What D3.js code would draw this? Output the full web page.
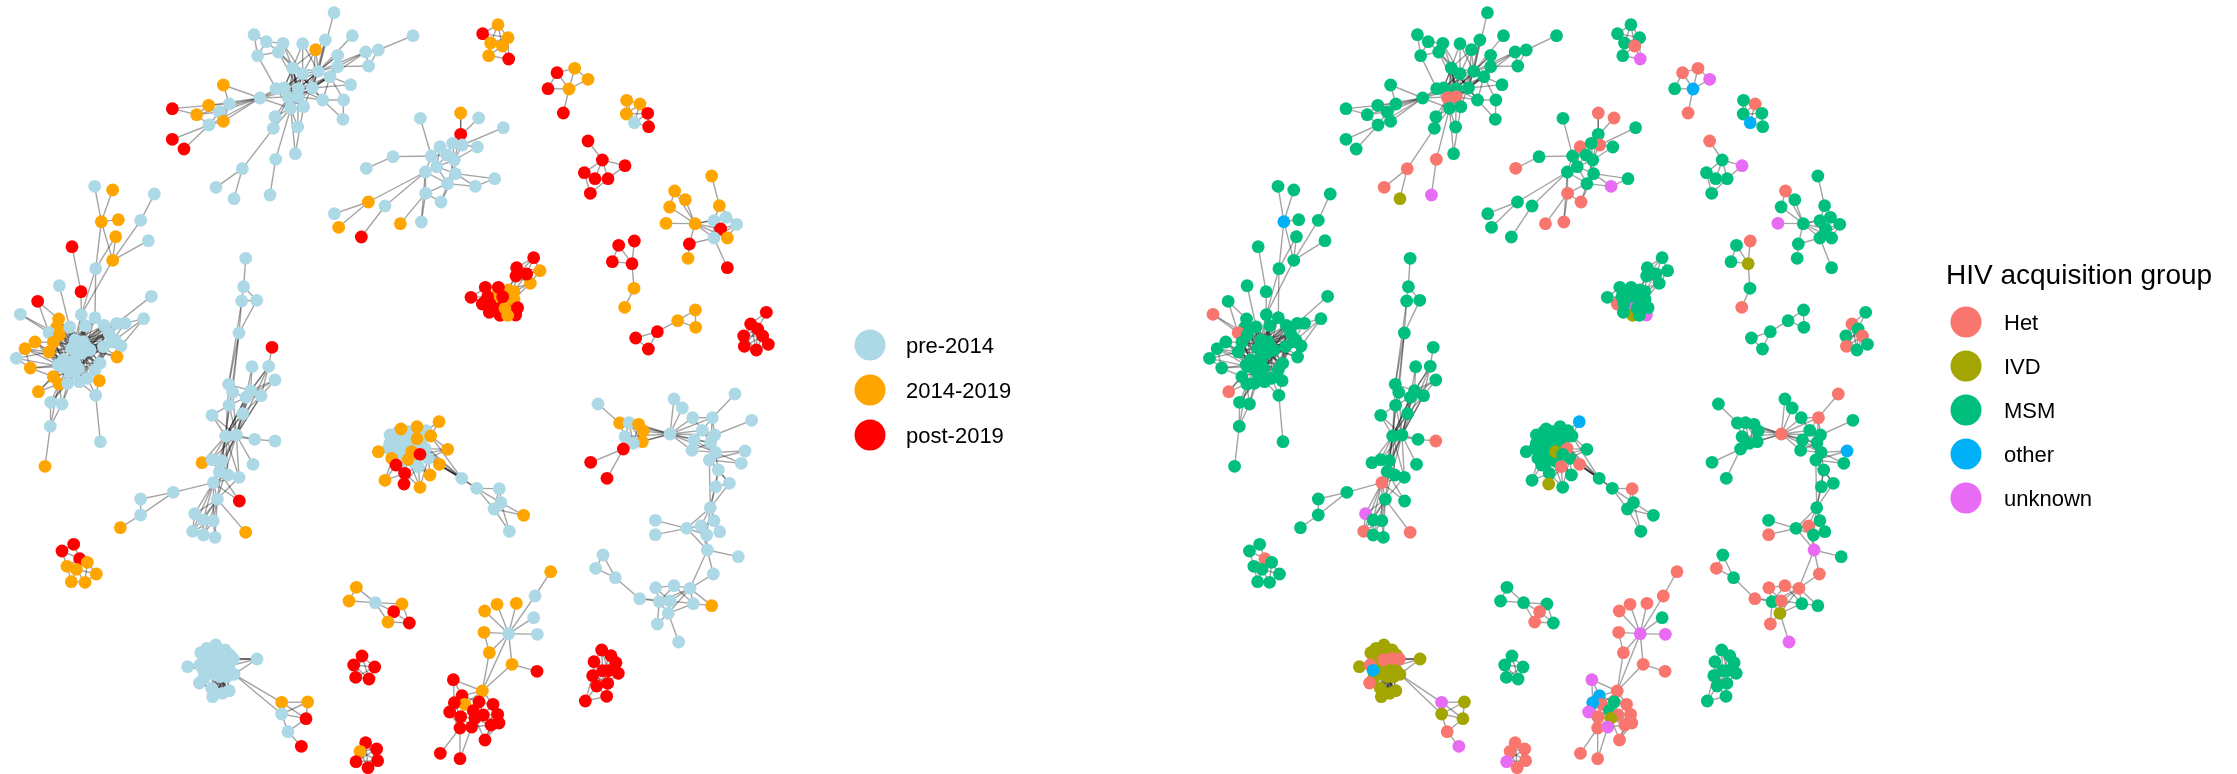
<!DOCTYPE html>
<html>

<head>
    <meta charset='utf-8' />
    <title>HIV transmission clusters</title>
    <script src="https://cdn.jsdelivr.net/npm/d3@7"></script>
    <style>
        html, body {
            margin: 0;
            background: #fff;
        }

        svg {
            display: block;
            font-family: "Liberation Sans", Arial, sans-serif;
            filter: blur(0.4px);
        }

        .edge {
            stroke: #111;
            stroke-opacity: 0.38;
            stroke-width: 1.4;
        }
    </style>
</head>

<body>
    <div id="graphic"></div>

    <script>
        // legend categories
        var periods = ["pre-2014", "2014-2019", "post-2019"];
        var periodColors = ["#ADD8E6", "#FFA500", "#FF0000"];
        var groups = ["Het", "IVD", "MSM", "other", "unknown"];
        var groupCodes = ["H", "I", "M", "O", "U"];
        var groupColors = ["#F8766D", "#A3A500", "#00BF7D", "#00B0F6", "#E76BF3"];

        // network layout, one set of lists per component
        // period: 0 pre-2014, 1 2014-2019, 2 post-2019. group: first letter. links: "from:to,to"
        var aX = [1002,1239,1057,976,762,799,849,835,773,908, 947,1013,1097,1135,1106,1013,878,908,955,990, 1052,937,895,828,852,865,895,968,1031,1029, 911,872,825,820,893,886,827,810,727,648, 702,780,670,688,626,590,658,670,627,517, 517,552];
        var aY = [38,107,107,120,104,125,130,156,167,131, 149,166,156,150,198,200,204,221,214,230, 254,264,266,266,264,293,290,300,300,358, 320,325,350,385,381,461,478,585,506,562, 596,294,255,312,316,344,336,364,375,326, 418,447];
        var aPeriod = "0000000000 1000000000 0000000000 0000000000 0010110102 22";
        var aGroup = "MMMMMMMMMM MMMMMMMMMM MMMMMHHMMM MMMMMMHUHH IMMMMMMMMM MM";
        var aLinks = "0:18 1:13 13:12,14 12:15,18,19,14 14:15 2:18 3:18,10,21 4:5,8 5:6,7,8 6:7,16,17 7:8,17,22,21 8:23 9:17,18,16 10:16,18,21,17 11:15,18,19,22 15:18,19,21 16:17,18,21,22,24,25,26 17:18,21,22,24,25 18:19,21,22,26,30 19:21,22,27 20:21,19 21:22,26 22:24,25,26,23 23:24,25,31,41 24:25 25:26,31,30 26:30,31 27:28,21,22 28:29,19 29:27 30:31 31:32,33,34,35,36 32:25,33 33:38,25 34:26 35:30 36:37 38:39,40 41:43,46,47,48,22,26,24,31,42,44,45 42:43 43:46,47,44 44:49,45,46 45:46,48,49 46:47,48 47:48 48:50,51 30:16,17,22 31:16,21,17 25:18,19 26:16,19,27 24:16,17,18 21:16,27,19";

        var bX = [1261,1179,1099,1294,1320,1382,1436,1382,1510,1387, 1432,1358,1340,1363,1310,1276,1366,1343,1484,1426, 1277,1323,1264,1201,1105,1155,1003,1016,1084];
        var bY = [355,470,505,468,440,339,354,403,383,435, 441,430,465,480,500,516,521,551,536,559, 580,606,666,671,606,618,641,682,711];
        var bPeriod = "0000010200 0000000000 000110012";
        var bGroup = "MMHMHHHMMH MMMMMMMMMU HHHHMMMMM";
        var bLinks = "0:3 1:3,2 3:14,12,4 4:12,14 5:7 6:11 7:11,13,5 8:9 9:11,13 10:9,13 11:12,13 12:13,14,16 13:14,16,17 14:15,16,17 15:24,25,3,20,22,17 24:26,27 25:28 20:17,21,22,23 21:17,16 16:18,19 19:18,17";

        var cX = [284,338,463,304,355,422,347,445,216,338, 287,178,243,113,454,61,244,285,431,176, 350,375,312,209,256,170,147,178,327,345, 363,105,160,75,147,49,351,230,258,228, 310,335,300,205,185,210,235,91,160,177, 285,262,238,298,203,115,287,152,186,151, 301,135,225,250,215,270,245,240,190,225, 175,225];
        var cY = [559,570,582,665,659,661,710,722,740,781, 806,857,875,904,889,943,944,953,956,957, 970,970,976,981,977,982,998,1005,1000,1020, 1038,1026,1027,1046,1056,1075,1071,1035,1040,1058, 1040,1025,1090,1085,1100,1115,1105,1104,1130,1152, 1110,1135,1145,1142,1150,1175,1186,1207,1212,1279, 1325,1399,1020,1025,1045,1050,1060,1040,1080,1090, 1095,1115];
        var cPeriod = "0101101021 0022000001 0000010100 0111101000 0000000111 0001010000 0100000000 00";
        var cGroup = "MMMOMMMMMM MMMMMHMMMM MMMMMMHMMM MMMMMMMMMM MMMMMMMMMM MMMMMHMMMM MMMMMMMMMM MM";
        var cLinks = "37:23,24,16,17,27,32,34,25,19,38,39,43,44,54,28,40,22 38:17,22,24,28,29,40,41,42,50,39,30,20,21,36,51,52,16,23 39:23,27,32,34,43,44,45,46,50,51,52,54,42,49,48,40,24,25,19 46:50,51,52,42,40,38,43,54,37 45:34,48,49,54,44,37,32 43:34,32,27,24,23 22:28,29,40,42,41 28:29,41,20,42,46 40:42,50,51,45,43 41:50,42,44 0:3 1:3 3:10,9,4 5:2,9 6:9,10 7:9 8:12 12:16 9:16 10:16,17 11:23 13:26,19 15:26,27 14:20 18:21,29,30 20:21,22 21:41 26:25,32,34 19:25,27 31:32,34,33 33:47,34 35:33,34,47,44 47:48,44 48:49,55,44 49:55,57,58,54 55:44 36:29,40 53:50,56 56:60,52,51 57:59,54 58:59,54 59:61,49 52:51 62:23,24,16,17,22,27,25,19,28 63:24,17,22,28,40,41,23,20,16 64:23,27,32,34,25,26,43 65:22,28,40,41,29,30,50,42,36 66:42,50,51,52,46,40,54,45,29 67:27,32,23,24,43,28,22 68:27,32,34,26,31,33 69:46,51,52,50,54,42 70:34,32,48,49,47,33,31 71:54,52,48,49,51,57,58";

        var dX = [737,731,725,770,717,816,756,806,825,686, 698,752,738,783,687,728,636,677,709,764, 825,606,636,665,759,658,684,717,640,520, 422,422,361,652,718,584,610,640,578,610, 645,737];
        var dY = [775,860,903,901,999,1042,1100,1099,1140,1153, 1177,1172,1192,1187,1216,1241,1246,1308,1305,1318, 1323,1388,1379,1382,1393,1415,1425,1432,1448,1477, 1497,1545,1583,1498,1503,1541,1560,1562,1594,1605, 1612,1597];
        var dPeriod = "0000020000 0000000000 0100000000 0010200000 01";
        var dGroup = "MMMMMMMMMM MMMMMMMMMM HMMMMMMMHM MMMMMUMMHM MH";
        var dLinks = "0:1 1:2,3 2:3,4,9 3:4 4:9,10,17 5:7 6:11,12 7:11,12,18,13 8:11,13,12 9:10,11,17 10:14,18,12 11:12,13,15,18 12:13,15,18,14,17 13:15,18 14:17,18 15:17,18 16:17,18,14 17:18,22,23,25,28,21,33,19 18:19,24,22,23,25,27,28 19:20 21:22 22:23,25 23:25,26 25:26,27,28,34 26:28 27:28,33 28:29,33,36,35,37,38,34 29:30,31 30:31 31:32 33:35,36,37,39,40,41,38 35:36,38 36:37,39 37:39,40,38 38:39 39:40 18:13,33 17:11,12,15,26,27";

        // extra nodes that only fill the solid middle of a blob, drawn under the component
        var eFillX = [1170,1195,1215,1240,1190,1210,1165,1200,1262,1270,1240,1200,1215,1235];
        var eFillY = [1305,1295,1310,1305,1335,1345,1345,1360,1325,1310,1385,1390,1295,1330];
        var eFillPeriod = "00000000000000";
        var eFillGroup = "MMMMMMMMMMMMMM";
        var eFillLinks = "0:1";

        var eX = [1180,1225,1200,1170,1185,1220,1245,1278,1285,1275, 1203,1251,1292,1251,1135,1343,1175,1225,1235,1260, 1188,1255,1318,1214,1290,1155,1212,1260,1317,1385, 1430,1498,1503,1482,1571,1528];
        var eY = [1310,1295,1320,1330,1355,1330,1345,1292,1375,1345, 1287,1280,1308,1316,1355,1348,1375,1378,1355,1363, 1395,1400,1393,1420,1425,1441,1452,1462,1265,1435, 1465,1466,1508,1527,1546,1594];
        var ePeriod = "0000000000 1111111112 2012112110 000010";
        var eGroup = "MMMMMMMMMH MMMMMMMMIM MHHMMMIMOM MHMMMM";
        var eLinks = "28:7,12 10:0,1 11:1,13 12:7,5 14:3,4,0 15:6,8,12,19 16:2,4,20 17:5,23,21 22:8,6,13,29,19 24:8,17,18,21 25:20,23,4 27:23,21,8,17 26:23,20,21 21:17,18,19,9,23 29:30,6,8,12,9,13,19 30:31,32,33,22 31:32,33 32:33,34,35 33:34,35 5:1,2,6,9,13,17,18 6:13,19,9 20:23,17 9:22,19";

        var fFillX = [1510,1530,1525,1495,1485,1455,1530,1500];
        var fFillY = [905,915,895,880,930,905,930,925];
        var fFillPeriod = "11112222";
        var fFillGroup = "MMMMMMMM";
        var fFillLinks = "0:1";

        var fX = [1447,1485,1500,1547,1525,1542,1485,1542,1515,1523, 1620,1591,1601,1550,1548,1580,1456,1495,1508,1463, 1413,1470,1553,1468];
        var fY = [912,910,946,945,870,875,890,898,925,946, 812,850,773,803,828,822,862,862,890,890, 892,912,923,937];
        var fPeriod = "2222111111 1122222222 2222";
        var fGroup = "HUIUMMMMMM MMMMMMMMMM MMMM";
        var fLinks = "12:13,14,15,10 13:14,15,11,10 14:15,5,4,11,18 15:11,10,5 10:11,14 11:5,7,4 20:16,19,21,0 16:17,19,6,0 17:18,6,4 18:5,4,7,8 19:21,6 21:23,0,8 23:8,9 8:9,2,7,22 9:22,3 22:7,3 4:5,6,7 5:7";

        var gX = [1494,1448,1524,1472,1507,1466,1526];
        var gY = [74,101,113,129,138,167,177];
        var gPeriod = "1211112";
        var gGroup = "MMMMHMU";
        var gLinks = "0:1,2,3,4 1:2,3,4 2:3,4,6 3:4,5 4:5,6 5:6";

        var hX = [1671,1724,1764,1644,1707,1690];
        var hY = [218,205,238,266,267,339];
        var hPeriod = "211212";
        var hGroup = "HHUMOH";
        var hLinks = "0:1,3,4 1:2,4 2:4 3:4 4:5";

        var iX = [1880,1920,1943,1879,1903,1946];
        var iY = [301,312,340,342,368,380];
        var iPeriod = "112102";
        var iGroup = "MHMMOM";
        var iLinks = "0:1,3,4 1:2,3,4 2:3,4,5 3:4 4:5";

        var jX = [1764,1807,1875,1753,1785,1824,1771];
        var jY = [423,480,497,518,536,536,580];
        var jPeriod = "2222222";
        var jGroup = "HMUMMMM";
        var jLinks = "0:1 1:2,3,4,5 2:5 3:4,6 4:5 5:6";

        var kX = [2135,2024,2056,2009,2158,1998,2085,2178,2142,2210, 2162,2182,2142,2068,2064,2182];
        var kY = [528,573,599,621,617,670,671,652,662,673, 687,714,714,732,775,803];
        var kPeriod = "1111111000 210212";
        var kGroup = "MHMMMUMMMM MMMMMM";
        var kLinks = "0:4 1:2,3,6 2:6 3:6 5:6 4:8,9 6:8,10,12,7,11 7:8,9,10 8:10,12 9:10,11,12 10:11,12 6:13 12:13,15 13:14";

        var lX = [1856,1903,1837,1896,1902,1874];
        var lY = [736,723,785,791,865,922];
        var lPeriod = "222211";
        var lGroup = "MHMIMH";
        var lLinks = "0:2,3 1:3 2:3 3:4 4:5";

        var mX = [1907,1972,1945,2033,2086,2087];
        var mY = [1014,995,1047,962,930,982];
        var mPeriod = "222111";
        var mGroup = "MMMMMM";
        var mLinks = "0:1,2 1:2,3 3:4,5 4:5";

        var nX = [2299,2252,2273,2288,2231,2305,2233,2269];
        var nY = [937,972,987,1008,1008,1033,1039,1050];
        var nPeriod = "22222222";
        var nGroup = "MHMHMMHM";
        var nLinks = "0:1,2 1:2,3,4,5,6,7 2:3,4,6,7,5 3:4,5,6,7 4:6,7 5:7 6:7";

        var oX = [1794,1859,1887,1916,1930,1927,1900,1875,1870,1772, 1821,2010,2022,2047,2078,2137,2205,2255,2107,2144, 2082,2132,2076,2146,2128,2235,2224,2155,2188,2147, 2131,2142,2159,2103,2120,2060,1966,1966,2122,2215, 2140,1809,1787,1846,1919,1967,2022,2070,1978,2010, 2080,2135,2005,1972,2036];
        var oY = [1212,1269,1268,1273,1293,1325,1330,1310,1347,1387, 1435,1302,1197,1224,1253,1253,1182,1261,1291,1305, 1320,1328,1351,1357,1380,1353,1390,1410,1450,1460, 1523,1562,1595,1578,1605,1585,1561,1604,1650,1670, 1722,1665,1705,1733,1796,1763,1757,1765,1805,1803, 1811,1817,1840,1872,1926];
        var oPeriod = "0101110022 2000000000 0000000000 0000000000 0000000000 01000";
        var oGroup = "MMMMMMMMMM MHMMMHHMMM MMMMMOMMMM MMMHMMMHUM HMHMHHHHMH MMIHU";
        var oLinks = "0:1 1:2,4,11,7 2:3,5,6,7,11 3:4,5,6,11 4:5,6,11 5:6,11 6:7,8,11 7:8,11 8:9,10 11:12,13,14,15,18,19,20,21,22,23 14:15,18 15:16,19,21,18 17:19 18:19,20,21 19:21,23 20:21,22,23 21:22,23,24 22:23 23:24,25,26,27 24:25,26,27,28,30 27:28,29,30 28:29,30 29:30 30:31,32,33,34,35 31:32 33:34,35,31,38 35:36,37,34 34:38 38:39,40,35,47 40:47 41:42,43 42:43 43:44 44:48,49 45:46,48,49 46:47,48,50 47:49,50,48,51 48:49,52,53 49:50,52 50:51,52 52:53,54,47";

        var pX = [221,186,239,262,201,229,289,214,255];
        var pY = [1633,1653,1676,1687,1699,1708,1722,1745,1747];
        var pPeriod = "222111111";
        var pGroup = "MMHMMMMMM";
        var pLinks = "0:1,2 1:2,4 2:3,5,4 3:5,6,8 4:5,7 5:7,8,6 6:8 7:8";

        var qFillX = [632,660,690,620,655,690,625,660,612];
        var qFillY = [1960,1955,1965,1975,1995,2012,2020,2030,2035];
        var qFillPeriod = "000000000";
        var qFillGroup = "IIIIIIIII";
        var qFillLinks = "0:1";

        var qX = [563,771,647,620,675,602,645,670,610,625, 640,680,702,615,650,680,635,688,667,638, 660,646,674,700,600,598,610,845,923,845, 918,864,904];
        var qY = [2000,1977,1935,1945,1950,1958,1970,1980,1985,2005, 2000,2000,2023,2025,2025,2030,2065,2072,2080,2090, 2010,1979,1975,1977,1995,2049,2011,2107,2106,2142, 2156,2195,2239];
        var qPeriod = "0000000000 0000000000 0000000110 202";
        var qGroup = "IIIIIIIIII IIIIIIIIII IHHHHHOUII IHU";
        var qLinks = "0:24,26,9,8 1:23,12,11,7,22 12:27,29,15,23 14:15,16,17,18,19,25 15:16,17,18,19 16:17,18,19,25 17:18,19 18:19 25:14,16,13 7:6,10,11 27:28,29,30 29:28,30,31 31:32,30 28:30 6:18,19 7:18,17 10:18,16,17 11:18,16 4:18 5:18 2:18 9:18,17";

        var rX = [1069,1047,1126,1206,1181,1164,1228];
        var rY = [1762,1803,1808,1812,1835,1866,1869];
        var rPeriod = "1101212";
        var rGroup = "MMMMHHM";
        var rLinks = "0:1,2 1:2 2:3,5,4 3:4,6 4:5,6 5:6";

        var sX = [1086,1061,1124,1067,1107];
        var sY = [1968,1995,2001,2032,2037];
        var sPeriod = "22222";
        var sGroup = "MMMMM";
        var sLinks = "0:1,2,3,4 1:2,3,4 2:3,4 3:4";

        var tX = [1097,1130,1080,1068,1133,1104];
        var tY = [2228,2247,2254,2285,2282,2303];
        var tPeriod = "221222";
        var tGroup = "HHHUHH";
        var tLinks = "0:1,2,3,4,5 1:2,3,4,5 2:3,4,5 3:4,5 4:5";

        var uX = [1652,1605,1601,1612,1549,1491,1454,1452,1526,1468, 1536,1611,1447,1360,1386,1394,1363,1349,1437,1479, 1420,1450,1382,1493,1497,1473,1425,1380,1415,1455, 1321,1380];
        var uY = [1715,1788,1853,1903,1810,1813,1833,1897,1901,1958, 1993,2014,2073,2039,2087,2113,2108,2136,2106,2113, 2132,2145,2150,2143,2169,2175,2155,2184,2181,2220, 2260,2276];
        var uPeriod = "1000111101 1212212222 2222222222 22";
        var uGroup = "HHMUHHHHUH HHHUOHOUMH MHHHHHIHUH HH";
        var uLinks = "0:1 1:8 2:8 3:8 4:8 5:8 6:8 7:8,9 8:9,10,12 10:11,12 9:12 12:13,14,15,18,19,20 13:14,16 14:15,16,18,20 15:16,17,20,22,26 16:17,22 17:22,27 18:19,20,21,26 19:21,23,25 20:21,22,26,28 21:23,24,25,26 22:26,27,28 23:24,25,29 24:25,29 25:26,29,28 27:28,30,31 28:31 26:29";

        var vX = [1805,1833,1782,1848,1778,1808,1825,1855,1790,1823, 1820,1756];
        var vY = [1950,1967,1985,1988,2027,2012,2012,2020,2058,2050, 2089,2103];
        var vPeriod = "222222222222";
        var vGroup = "MMMMMMMMMMMM";
        var vLinks = "0:1,2,3,5,6 1:3,5,6,7 2:4,5,6,8 3:6,7 4:5,8,9 5:6,8,9 6:7,8,9 7:9 8:9,10,11 9:10 10:11 4:11";

        var components = [
            [aX, aY, aPeriod, aGroup, aLinks], [bX, bY, bPeriod, bGroup, bLinks],
            [cX, cY, cPeriod, cGroup, cLinks], [dX, dY, dPeriod, dGroup, dLinks],
            [eFillX, eFillY, eFillPeriod, eFillGroup, eFillLinks],
            [eX, eY, ePeriod, eGroup, eLinks],
            [fFillX, fFillY, fFillPeriod, fFillGroup, fFillLinks],
            [fX, fY, fPeriod, fGroup, fLinks],
            [gX, gY, gPeriod, gGroup, gLinks], [hX, hY, hPeriod, hGroup, hLinks],
            [iX, iY, iPeriod, iGroup, iLinks], [jX, jY, jPeriod, jGroup, jLinks],
            [kX, kY, kPeriod, kGroup, kLinks], [lX, lY, lPeriod, lGroup, lLinks],
            [mX, mY, mPeriod, mGroup, mLinks], [nX, nY, nPeriod, nGroup, nLinks],
            [oX, oY, oPeriod, oGroup, oLinks], [pX, pY, pPeriod, pGroup, pLinks],
            [qFillX, qFillY, qFillPeriod, qFillGroup, qFillLinks],
            [qX, qY, qPeriod, qGroup, qLinks], [rX, rY, rPeriod, rGroup, rLinks],
            [sX, sY, sPeriod, sGroup, sLinks], [tX, tY, tPeriod, tGroup, tLinks],
            [uX, uY, uPeriod, uGroup, uLinks], [vX, vY, vPeriod, vGroup, vLinks]
        ];

        var nodes = [];
        var links = [];

        components.forEach(function (c) {
            var start = nodes.length;
            var period = c[2].replace(/ /g, "");
            var group = c[3].replace(/ /g, "");
            c[0].forEach(function (x, i) {
                nodes.push({ x: x, y: c[1][i], period: +period[i], group: group[i] });
            });
            c[4].split(" ").forEach(function (entry) {
                var parts = entry.split(":");
                parts[1].split(",").forEach(function (to) {
                    links.push({ source: nodes[start + (+parts[0])], target: nodes[start + (+to)] });
                });
            });
        });

        var width = 2237,
            height = 774;

        var svg = d3.select("#graphic").append("svg")
            .attr("width", width)
            .attr("height", height);

        var y = d3.scaleLinear().domain([0, 2322]).range([0, 774]);
        var xLeft = d3.scaleLinear().domain([0, 2490]).range([0, 830]);
        var xRight = d3.scaleLinear().domain([0, 2490]).range([1195.2, 1921.4]);

        var periodScale = d3.scaleOrdinal().domain([0, 1, 2]).range(periodColors);
        var groupScale = d3.scaleOrdinal().domain(groupCodes).range(groupColors);

        //one network panel, same layout, different x scale and colouring
        function drawPanel(x, color) {
            var g = svg.append("g");
            g.selectAll("line")
                .data(links)
                .enter()
                .append("line")
                .attr("class", "edge")
                .attr("x1", function (d) { return x(d.source.x); })
                .attr("y1", function (d) { return y(d.source.y); })
                .attr("x2", function (d) { return x(d.target.x); })
                .attr("y2", function (d) { return y(d.target.y); });
            g.selectAll("circle")
                .data(nodes)
                .enter()
                .append("circle")
                .attr("cx", function (d) { return x(d.x); })
                .attr("cy", function (d) { return y(d.y); })
                .attr("r", 6.4)
                .attr("fill", color);
        }

        drawPanel(xLeft, function (d) { return periodScale(d.period); });
        drawPanel(xRight, function (d) { return groupScale(d.group); });

        //legends
        var periodLegendY = d3.scalePoint().domain(periods).range([345, 435]);
        var periodLegend = svg.selectAll(".periodKey")
            .data(periods)
            .enter()
            .append("g")
            .attr("class", "periodKey")
            .attr("transform", function (d) { return "translate(870," + periodLegendY(d) + ")"; });
        periodLegend.append("circle")
            .attr("r", 15.5)
            .attr("fill", function (d, i) { return periodColors[i]; });
        periodLegend.append("text")
            .attr("x", 36)
            .attr("y", 8)
            .attr("font-size", 22)
            .text(function (d) { return d; });

        svg.append("text")
            .attr("x", 1946)
            .attr("y", 284)
            .attr("font-size", 28)
            .text("HIV acquisition group");

        var groupLegendY = d3.scalePoint().domain(groups).range([322, 498]);
        var groupLegend = svg.selectAll(".groupKey")
            .data(groups)
            .enter()
            .append("g")
            .attr("class", "groupKey")
            .attr("transform", function (d) { return "translate(1966," + groupLegendY(d) + ")"; });
        groupLegend.append("circle")
            .attr("r", 15.5)
            .attr("fill", function (d, i) { return groupColors[i]; });
        groupLegend.append("text")
            .attr("x", 38)
            .attr("y", 8)
            .attr("font-size", 22)
            .text(function (d) { return d; });
    </script>

</body>

</html>
